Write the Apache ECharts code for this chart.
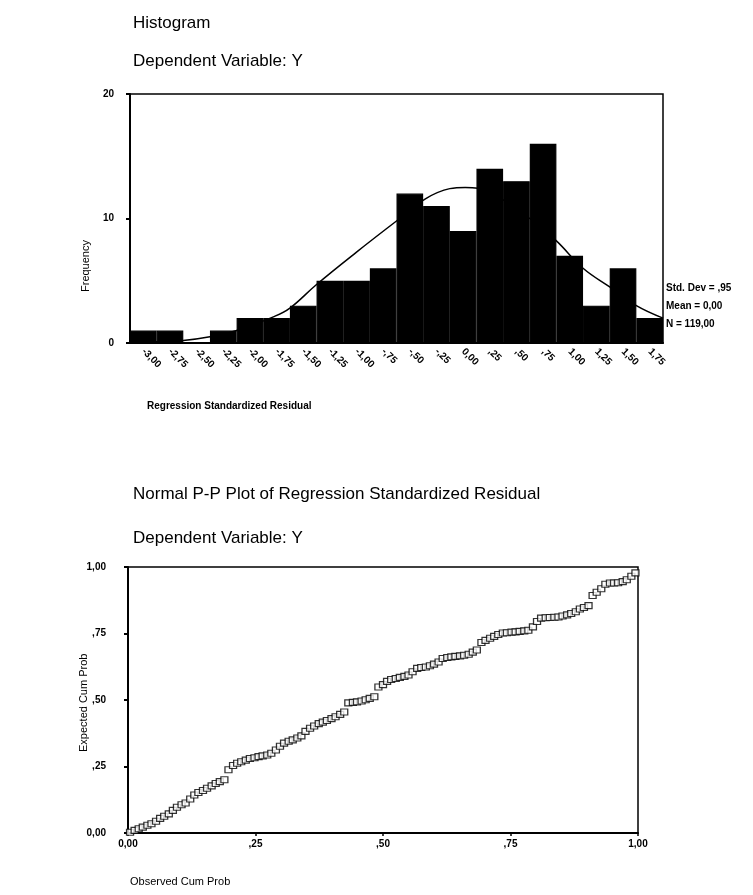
<!DOCTYPE html>
<html><head><meta charset="utf-8">
<script src="https://cdn.jsdelivr.net/npm/echarts@6/dist/echarts.min.js"></script>
<style>html,body{margin:0;padding:0;background:#fff;}#c{width:753px;height:895px;}</style>
</head><body><div id="c"></div>
<script>
// Histogram data
var binLabels = ["-3,00","-2,75","-2,50","-2,25","-2,00","-1,75","-1,50","-1,25","-1,00","-,75","-,50","-,25","0,00",",25",",50",",75","1,00","1,25","1,50","1,75"];
var frequencies = [1,1,0,1,2,2,3,5,5,6,12,11,9,14,13,16,7,3,6,2];
// Normal curve (residual value, frequency)
var curveX = [-3.125,-2.875,-2.625,-2.375,-2.125,-1.78,-1.625,-1.375,-1.0,-0.625,-0.35,-0.125,0.02,0.25,0.625,0.875,1.125,1.375,1.625,1.875];
var curveY = [0.05,0.1,0.2,0.5,1.0,2.1,2.8,4.7,7.3,9.8,11.6,12.4,12.5,12.1,10.0,8.2,6.0,4.5,3.0,2.0];
var freqTicks = [0,10,20];
var statsLines = ["Std. Dev = ,95","Mean = 0,00","N = 119,00"];
// P-P plot data
var observedCumProb = [0.004,0.013,0.021,0.029,0.038,0.046,0.055,0.063,0.071,0.080,0.088,0.096,0.105,0.113,0.122,0.130,0.138,0.147,0.155,0.164,0.172,0.180,0.189,0.197,0.206,0.214,0.222,0.231,0.239,0.248,0.256,0.264,0.273,0.281,0.290,0.298,0.306,0.315,0.323,0.332,0.340,0.348,0.357,0.365,0.374,0.382,0.390,0.399,0.407,0.416,0.424,0.432,0.441,0.449,0.458,0.466,0.474,0.483,0.491,0.500,0.508,0.516,0.525,0.533,0.542,0.550,0.558,0.567,0.575,0.584,0.592,0.600,0.609,0.617,0.626,0.634,0.642,0.651,0.659,0.668,0.676,0.684,0.693,0.701,0.710,0.718,0.726,0.735,0.743,0.752,0.760,0.768,0.777,0.785,0.794,0.802,0.810,0.819,0.827,0.836,0.844,0.852,0.861,0.869,0.878,0.886,0.894,0.903,0.911,0.919,0.928,0.936,0.945,0.953,0.961,0.970,0.978,0.987,0.995];
var expectedCumProb = [0.003,0.010,0.016,0.022,0.029,0.035,0.044,0.055,0.063,0.072,0.085,0.097,0.106,0.113,0.128,0.143,0.152,0.160,0.168,0.177,0.186,0.193,0.200,0.238,0.254,0.262,0.268,0.274,0.280,0.283,0.287,0.290,0.293,0.300,0.312,0.326,0.338,0.345,0.350,0.357,0.365,0.382,0.394,0.402,0.411,0.417,0.423,0.430,0.437,0.446,0.455,0.489,0.491,0.493,0.496,0.501,0.506,0.512,0.549,0.558,0.570,0.577,0.581,0.585,0.589,0.594,0.606,0.619,0.622,0.624,0.629,0.635,0.643,0.656,0.660,0.662,0.664,0.666,0.668,0.672,0.680,0.688,0.716,0.724,0.732,0.739,0.746,0.752,0.753,0.755,0.756,0.758,0.760,0.762,0.775,0.795,0.808,0.809,0.810,0.811,0.812,0.816,0.820,0.825,0.832,0.842,0.848,0.855,0.893,0.905,0.918,0.935,0.940,0.940,0.941,0.945,0.952,0.965,0.978];
var probTicks = {"0":"0,00","0.25":",25","0.5":",50","0.75":",75","1":"1,00"};

var curveData = curveX.map(function(x,i){return [x,curveY[i]];});
var ppData = observedCumProb.map(function(x,i){return [x,expectedCumProb[i]];});
var FONT = "'Liberation Sans', Arial, sans-serif";
var tickFmt = function(v){ var k = String(Math.round(v*100)/100); return probTicks[k] !== undefined ? probTicks[k] : ""; };
var lblStyle = {color:'#000', fontFamily:FONT, fontSize:10, fontWeight:'bold'};
var titleStyle = {fontFamily:FONT,fontSize:17,fontWeight:'normal',color:'#000'};

var chart = echarts.init(document.getElementById('c'), null, {renderer:'canvas'});
chart.setOption({
  animation:false,
  backgroundColor:'#fff',
  title:[
    {text:'Histogram', left:128, top:10, textStyle:titleStyle},
    {text:'Dependent Variable: Y', left:128, top:48, textStyle:titleStyle},
    {text:'Normal P-P Plot of Regression Standardized Residual', left:128, top:481, textStyle:titleStyle},
    {text:'Dependent Variable: Y', left:128, top:525, textStyle:titleStyle}
  ],
  grid:[
    {left:130, top:94, width:533, height:249, show:true, borderColor:'#000', borderWidth:1.5, backgroundColor:'#fff'},
    {left:128, top:567, width:510, height:266, show:true, borderColor:'#000', borderWidth:1.5, backgroundColor:'#fff'}
  ],
  xAxis:[
    {type:'category', gridIndex:0, data:binLabels, boundaryGap:true,
     axisLine:{onZero:false, lineStyle:{color:'#000',width:2}}, axisTick:{show:false},
     axisLabel:Object.assign({interval:0, rotate:-45, margin:7}, lblStyle), splitLine:{show:false}},
    {type:'value', gridIndex:0, min:-3.125, max:1.875, show:false},
    {type:'value', gridIndex:1, min:0, max:1, interval:0.25,
     axisLine:{onZero:false, lineStyle:{color:'#000',width:2}}, axisTick:{show:true, inside:false, length:3, lineStyle:{color:'#000',width:1.5}},
     axisLabel:Object.assign({formatter:tickFmt, margin:6}, lblStyle), splitLine:{show:false}}
  ],
  yAxis:[
    {type:'value', gridIndex:0, min:freqTicks[0], max:freqTicks[2], interval:freqTicks[1]-freqTicks[0],
     axisLine:{show:true, onZero:false, lineStyle:{color:'#000',width:2}}, axisTick:{show:true, length:4, lineStyle:{color:'#000',width:2}},
     axisLabel:Object.assign({margin:16}, lblStyle), splitLine:{show:false}},
    {type:'value', gridIndex:1, min:0, max:1, interval:0.25,
     axisLine:{show:true, onZero:false, lineStyle:{color:'#000',width:2}}, axisTick:{show:true, length:4, lineStyle:{color:'#000',width:2}},
     axisLabel:Object.assign({formatter:tickFmt, margin:22}, lblStyle), splitLine:{show:false}}
  ],
  series:[
    {type:'line', xAxisIndex:1, yAxisIndex:0, data:curveData, smooth:0.4, showSymbol:false, symbol:'none',
     lineStyle:{color:'#000', width:1.5}, z:1},
    {type:'bar', xAxisIndex:0, yAxisIndex:0, data:frequencies, barWidth:'100%', barCategoryGap:0,
     itemStyle:{color:'#000', borderColor:'#000', borderWidth:1.2}, z:2},
    {type:'scatter', xAxisIndex:2, yAxisIndex:1, data:ppData, symbol:'rect', symbolSize:[7,6],
     itemStyle:{color:'#fff', borderColor:'#000', borderWidth:1.2}, z:3}
  ],
  graphic:[
    {type:'text', left:666, top:283, style:{text:statsLines[0], font:'bold 10px '+FONT, fill:'#000'}},
    {type:'text', left:666, top:301, style:{text:statsLines[1], font:'bold 10px '+FONT, fill:'#000'}},
    {type:'text', left:666, top:319, style:{text:statsLines[2], font:'bold 10px '+FONT, fill:'#000'}},
    {type:'text', x:80, y:292, rotation:Math.PI/2, style:{text:'Frequency', font:'11px '+FONT, fill:'#000', textAlign:'left', textVerticalAlign:'top'}},
    {type:'text', left:147, top:401, style:{text:'Regression Standardized Residual', font:'bold 10px '+FONT, fill:'#000'}},
    {type:'text', x:78, y:752, rotation:Math.PI/2, style:{text:'Expected Cum Prob', font:'11px '+FONT, fill:'#000', textAlign:'left', textVerticalAlign:'top'}},
    {type:'text', left:130, top:876, style:{text:'Observed Cum Prob', font:'11px '+FONT, fill:'#000'}}
  ]
});
</script></body></html>
